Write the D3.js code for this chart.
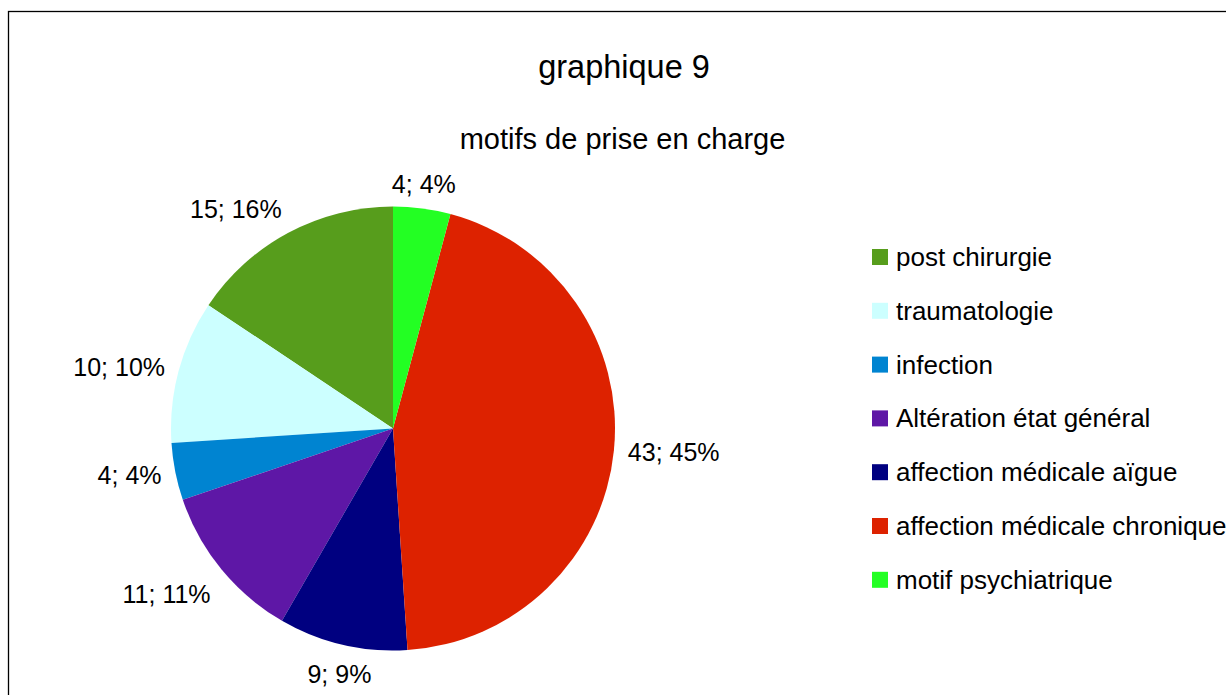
<!DOCTYPE html>
<html>
<head>
<meta charset="utf-8">
<script src="https://cdn.jsdelivr.net/npm/d3@7"></script>
<style>
  body { margin: 0; background: #fff; }
  svg { display: block; font-family: "Liberation Sans", Arial, sans-serif; }
</style>
</head>
<body>
<svg id="chart" width="1226" height="695"></svg>
<script>
// chart data
const title = 'graphique 9';
const subtitle = 'motifs de prise en charge';
const categories = ['post chirurgie', 'traumatologie', 'infection', 'Altération état général',
  'affection médicale aïgue', 'affection médicale chronique', 'motif psychiatrique'];
const values = [15, 10, 4, 11, 9, 43, 4];
const colors = ['#579d1c', '#ccffff', '#0084d1', '#5e17a6', '#000080', '#dd2200', '#23ff23'];

const cx = 393, cy = 428.5, radius = 222;

const svg = d3.select('#chart');

// frame (runs off the right and bottom edges)
svg.append('rect')
  .attr('x', 8.5).attr('y', 11.5)
  .attr('width', 1300).attr('height', 800)
  .attr('fill', 'none').attr('stroke', '#000').attr('stroke-width', 1.3);

svg.append('text')
  .attr('x', 624).attr('y', 78)
  .attr('text-anchor', 'middle')
  .style('font-size', '32.5px')
  .text(title);

svg.append('text')
  .attr('x', 622.5).attr('y', 149)
  .attr('text-anchor', 'middle')
  .style('font-size', '29px')
  .text(subtitle);

const color = d3.scaleOrdinal().domain(categories).range(colors);
const total = d3.sum(values);
const data = categories.map((c, i) => ({ name: c, value: values[i] }));

// counterclockwise from 12 o'clock, in legend order
const pie = d3.pie().sort(null).value(d => d.value)
  .startAngle(0).endAngle(-2 * Math.PI);
const arcs = pie(data);
const arc = d3.arc().innerRadius(0).outerRadius(radius);

const g = svg.append('g').attr('transform', `translate(${cx},${cy})`);
g.selectAll('path')
  .data(arcs)
  .enter()
  .append('path')
  .attr('d', arc)
  .attr('fill', d => color(d.data.name));

// labels just outside the rim, aligned away from the pie
const fmtPct = v => Math.round(v / total * 100) + '%';
const labelR = radius + 14;
arcs.forEach(d => {
  const a = (d.startAngle + d.endAngle) / 2;
  const sx = Math.sin(a), sy = -Math.cos(a);
  const px = labelR * sx, py = labelR * sy;
  const anchor = sx > 0.3 ? 'start' : (sx < -0.3 ? 'end' : 'middle');
  const by = sy < -0.3 ? py - 2 : (sy > 0.3 ? py + 25 : py + 9);
  g.append('text')
    .attr('x', px).attr('y', by)
    .attr('text-anchor', anchor)
    .style('font-size', '25px')
    .text(d.data.value + '; ' + fmtPct(d.data.value));
});

// legend
const legend = svg.append('g').attr('transform', 'translate(872,249)');
const rowH = 53.8;
categories.forEach((c, i) => {
  const row = legend.append('g').attr('transform', `translate(0,${i * rowH})`);
  row.append('rect')
    .attr('width', 16).attr('height', 16)
    .attr('fill', color(c));
  row.append('text')
    .attr('x', 24).attr('y', 17)
    .style('font-size', '26px')
    .text(c);
});
</script>
</body>
</html>
